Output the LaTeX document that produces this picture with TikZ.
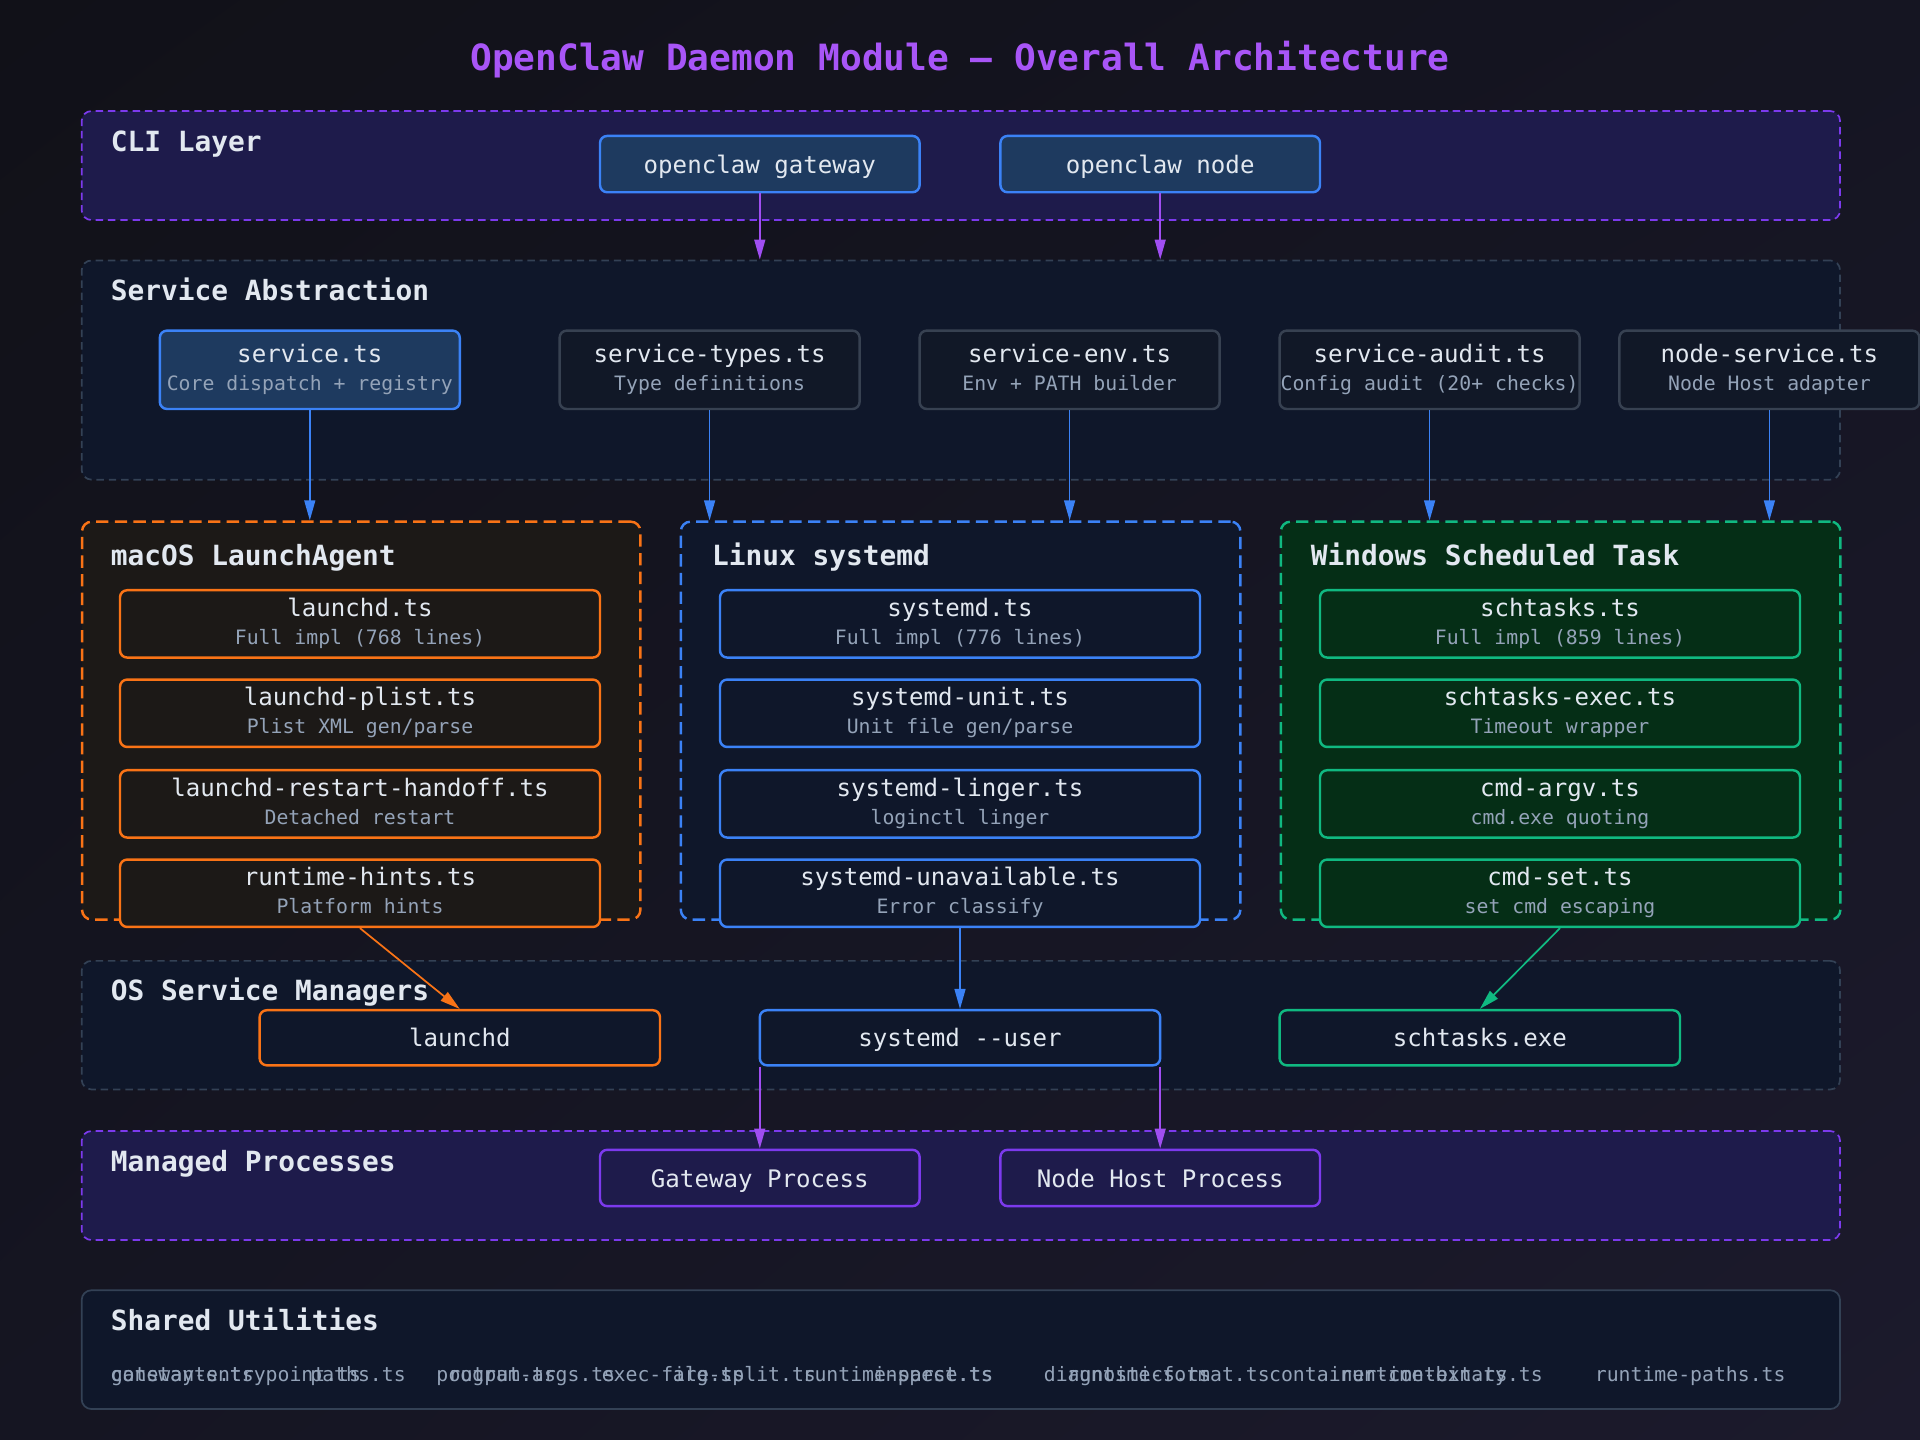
\documentclass[tikz,border=0pt]{standalone}
\usepackage{fontspec}
\newfontfamily\mono{DejaVu Sans Mono}
\usetikzlibrary{arrows.meta,shadings}

\definecolor{bgA}{HTML}{111118}
\definecolor{bgB}{HTML}{1C1A2C}
\definecolor{bgC}{HTML}{151522}
\definecolor{cliF}{HTML}{1E1B4B}
\definecolor{purpD}{HTML}{7C3AED}
\definecolor{purp}{HTML}{A04EF2}
\definecolor{ttlc}{HTML}{A855F7}
\definecolor{navy}{HTML}{0F172A}
\definecolor{slate}{HTML}{334155}
\definecolor{gfill}{HTML}{111827}
\definecolor{gbord}{HTML}{374151}
\definecolor{blueF}{HTML}{1E3A5F}
\definecolor{blue}{HTML}{3B82F6}
\definecolor{macF}{HTML}{1C1917}
\definecolor{orng}{HTML}{F97316}
\definecolor{winF}{HTML}{052E16}
\definecolor{grn}{HTML}{10B981}
\definecolor{txt}{HTML}{E2E8F0}
\definecolor{subc}{HTML}{94A3B8}

\newcommand\subline[1]{{\fontsize{6.9}{9.8}\selectfont\color{subc}#1\rule[-1.7pt]{0pt}{1.7pt}}}

\tikzset{
  grp/.style={rounded corners=3.4pt,line width=0.6pt,dash pattern=on 2.6pt off 1.7pt,inner sep=0pt,anchor=north west},
  plat/.style={grp,line width=0.85pt,dash pattern=on 4.3pt off 2.2pt},
  sz/.style 2 args={minimum width=#1*0.015cm,minimum height=#2*0.015cm},
  gtitle/.style={anchor=west,inner sep=0pt,text height=7.2pt,text depth=0pt,text=txt,font=\mono\bfseries\fontsize{9.7}{11}\selectfont},
  box/.style={draw,rounded corners=2.5pt,line width=0.85pt,inner sep=0pt,align=center,text=txt,font=\mono\fontsize{8.4}{9.8}\selectfont,execute at begin node={\rule[-2pt]{0pt}{10.4pt}}},
  util/.style={anchor=west,inner sep=0pt,text height=5.2pt,text depth=0pt,text=subc,font=\mono\fontsize{6.9}{8}\selectfont},
  arr/.style={-{Triangle[length=7pt,width=3.8pt]},line width=0.6pt},
  parr/.style={arr,draw=purp},
  barr/.style={arr,draw=blue},
  oarr/.style={arr,draw=orng},
  garr/.style={arr,draw=grn}
}

\begin{document}
\begin{tikzpicture}[x=0.015cm,y=-0.015cm,font=\mono]
\shade[upper left=bgA,lower right=bgB,upper right=bgC,lower left=bgC] (0,0) rectangle (1568,1176);
\useasboundingbox (0,0) rectangle (1568,1176);

\node[text=ttlc,text height=9.2pt,text depth=0pt,font=\mono\bfseries\fontsize{12.6}{14}\selectfont] (title) at (784,47) {OpenClaw Daemon Module — Overall Architecture};

\node[grp,draw=purpD,fill=cliF,sz={1436}{89}] (cli) at (66,90) {};
\node[grp,draw=slate,fill=navy,sz={1436}{179}] (sab) at (66,212) {};
\node[plat,draw=orng,fill=macF,sz={456}{325}] (mac) at (66,425) {};
\node[plat,draw=blue,fill=navy,sz={457}{325}] (lin) at (555,425) {};
\node[plat,draw=grn,fill=winF,sz={457}{325}] (win) at (1045,425) {};
\node[grp,draw=slate,fill=navy,sz={1436}{105}] (osm) at (66,784) {};
\node[grp,draw=purpD,fill=cliF,sz={1436}{89}] (mgd) at (66,923) {};
\node[grp,solid,draw=slate,fill=navy,sz={1436}{97}] (shr) at (66,1053) {};

\node[gtitle] (cliT) at (90,115) {CLI Layer};
\node[gtitle] (sabT) at (90,237) {Service Abstraction};
\node[gtitle] (macT) at (90,453) {macOS LaunchAgent};
\node[gtitle] (linT) at (581,453) {Linux systemd};
\node[gtitle] (winT) at (1070,453) {Windows Scheduled Task};
\node[gtitle] (osmT) at (90,809) {OS Service Managers};
\node[gtitle] (mgdT) at (90,948) {Managed Processes};
\node[gtitle] (shrT) at (90,1078) {Shared Utilities};

\node[box,draw=blue,fill=blueF,sz={261}{46}] (gw) at (620.5,134) {openclaw gateway};
\node[box,draw=blue,fill=blueF,sz={261}{46}] (nd) at (947.5,134) {openclaw node};

\node[box,draw=blue,fill=blueF,sz={245}{64}] (svc) at (253,302) {service.ts\\\subline{Core dispatch + registry}};
\node[box,draw=gbord,fill=gfill,sz={245}{64}] (types) at (579.5,302) {service-types.ts\\\subline{Type definitions}};
\node[box,draw=gbord,fill=gfill,sz={245}{64}] (env) at (873.5,302) {service-env.ts\\\subline{Env + PATH builder}};
\node[box,draw=gbord,fill=gfill,sz={245}{64}] (audit) at (1167.5,302) {service-audit.ts\\\subline{Config audit (20+ checks)}};
\node[box,draw=gbord,fill=gfill,sz={245}{64}] (nsvc) at (1445,302) {node-service.ts\\\subline{Node Host adapter}};

\node[box,draw=orng,fill=macF,sz={392}{55}] (lts) at (294,509.5) {launchd.ts\\\subline{Full impl (768 lines)}};
\node[box,draw=orng,fill=macF,sz={392}{55}] (plist) at (294,582.5) {launchd-plist.ts\\\subline{Plist XML gen/parse}};
\node[box,draw=orng,fill=macF,sz={392}{55}] (handoff) at (294,656.5) {launchd-restart-handoff.ts\\\subline{Detached restart}};
\node[box,draw=orng,fill=macF,sz={392}{55}] (hints) at (294,729.5) {runtime-hints.ts\\\subline{Platform hints}};

\node[box,draw=blue,fill=navy,sz={392}{55}] (sdts) at (784,509.5) {systemd.ts\\\subline{Full impl (776 lines)}};
\node[box,draw=blue,fill=navy,sz={392}{55}] (unit) at (784,582.5) {systemd-unit.ts\\\subline{Unit file gen/parse}};
\node[box,draw=blue,fill=navy,sz={392}{55}] (linger) at (784,656.5) {systemd-linger.ts\\\subline{loginctl linger}};
\node[box,draw=blue,fill=navy,sz={392}{55}] (sunav) at (784,729.5) {systemd-unavailable.ts\\\subline{Error classify}};

\node[box,draw=grn,fill=winF,sz={392}{55}] (sch) at (1274,509.5) {schtasks.ts\\\subline{Full impl (859 lines)}};
\node[box,draw=grn,fill=winF,sz={392}{55}] (schx) at (1274,582.5) {schtasks-exec.ts\\\subline{Timeout wrapper}};
\node[box,draw=grn,fill=winF,sz={392}{55}] (argv) at (1274,656.5) {cmd-argv.ts\\\subline{cmd.exe quoting}};
\node[box,draw=grn,fill=winF,sz={392}{55}] (cset) at (1274,729.5) {cmd-set.ts\\\subline{set cmd escaping}};

\node[box,draw=orng,fill=navy,sz={327}{45}] (lchd) at (375.5,847.5) {launchd};
\node[box,draw=blue,fill=navy,sz={327}{45}] (sdu) at (784,847.5) {systemd --user};
\node[box,draw=grn,fill=navy,sz={327}{45}] (scht) at (1208.5,847.5) {schtasks.exe};

\node[box,draw=purpD,fill=cliF,sz={261}{46}] (gwp) at (620.5,962) {Gateway Process};
\node[box,draw=purpD,fill=cliF,sz={261}{46}] (nhp) at (947.5,962) {Node Host Process};

\node[util] (u1) at (90,1122) {constants.ts};
\node[util] (u2) at (90,1122) {gateway-entrypoint.ts};
\node[util] (u3) at (253,1122) {paths.ts};
\node[util] (u4) at (356,1122) {program-args.ts};
\node[util] (u5) at (366,1122) {output.ts};
\node[util] (u6) at (491,1122) {exec-file.ts};
\node[util] (u7) at (549,1122) {arg-split.ts};
\node[util] (u8) at (655,1122) {runtime-parse.ts};
\node[util] (u9) at (713,1122) {inspect.ts};
\node[util] (u10) at (852,1122) {diagnostics.ts};
\node[util] (u11) at (871,1122) {runtime-format.ts};
\node[util] (u12) at (1036,1122) {container-context.ts};
\node[util] (u13) at (1094,1122) {runtime-binary.ts};
\node[util] (u14) at (1302,1122) {runtime-paths.ts};

\draw[parr] (gw) -- (gw |- sab.north);
\draw[parr] (nd) -- (nd |- sab.north);
\draw[barr] (svc) -- (svc |- mac.north);
\draw[barr] (types) -- (types |- lin.north);
\draw[barr] (env) -- (env |- lin.north);
\draw[barr] (audit) -- (audit |- win.north);
\draw[barr] (nsvc) -- (nsvc |- win.north);
\draw[oarr] (hints.south) -- (lchd.north);
\draw[barr] (sunav.south) -- (sdu.north);
\draw[garr] (cset.south) -- (scht.north);
\draw[parr] (gwp.north |- sdu.south) -- (gwp.north);
\draw[parr] (nhp.north |- sdu.south) -- (nhp.north);
\end{tikzpicture}
\end{document}
